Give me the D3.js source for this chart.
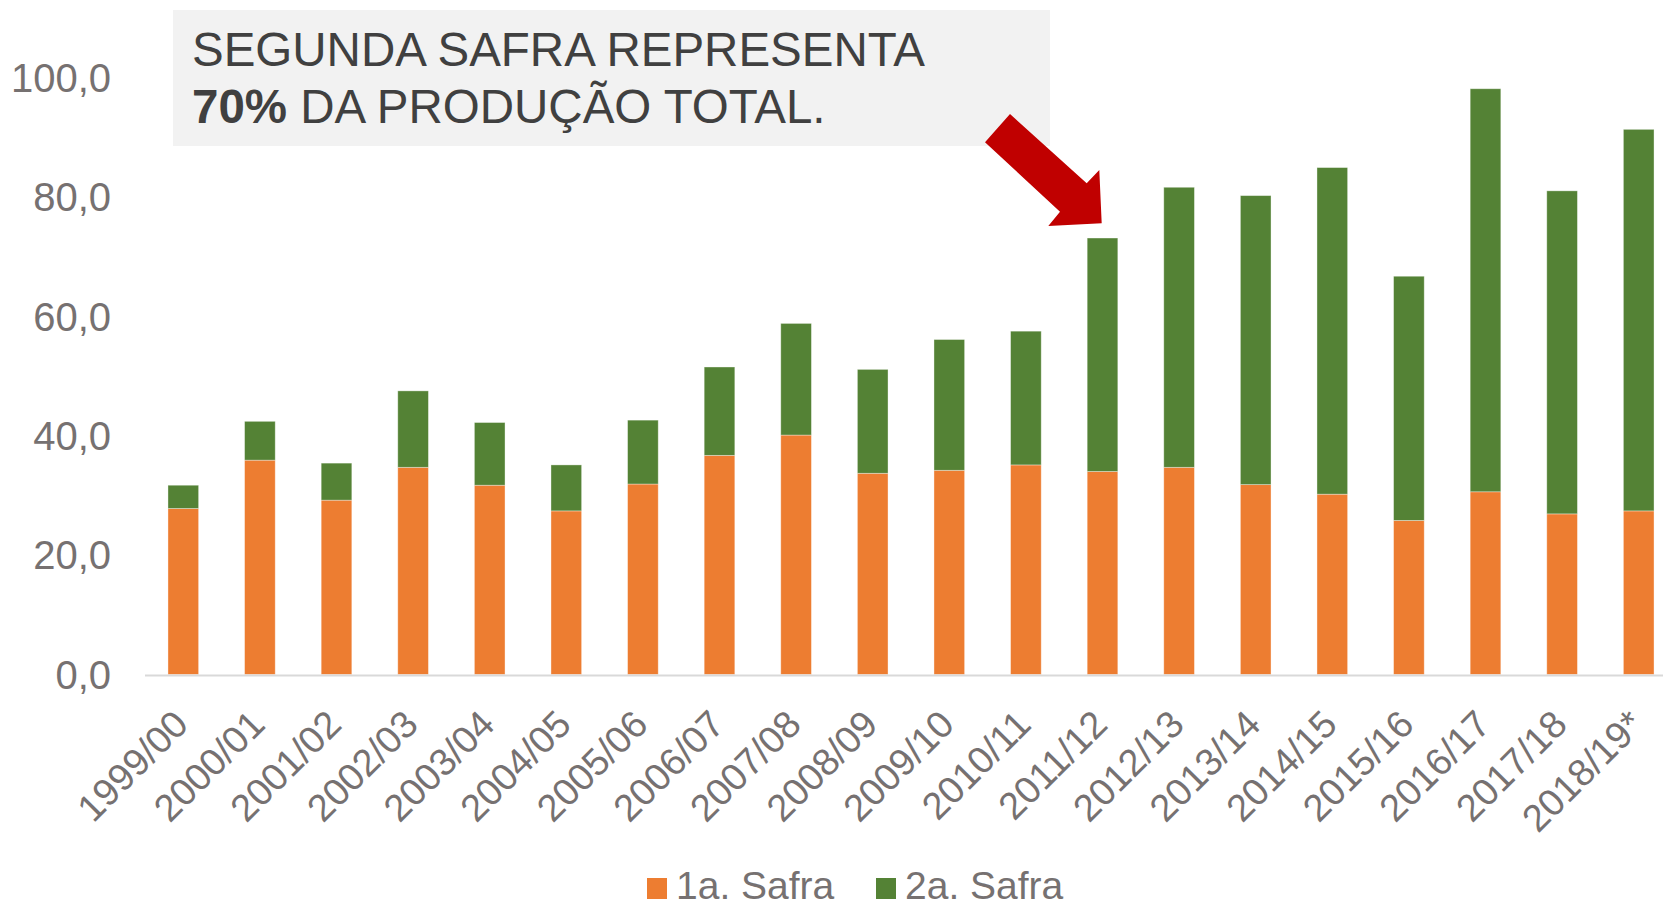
<!DOCTYPE html>
<html>
<head>
<meta charset="utf-8">
<script src="https://cdn.jsdelivr.net/npm/d3@7"></script>
<style>
  html, body { margin: 0; padding: 0; background: #fff; }
  svg { display: block; font-family: "Liberation Sans", Arial, sans-serif; }
</style>
</head>
<body>
<svg id="chart" width="1663" height="907"></svg>
<script>
const categories = ["1999/00","2000/01","2001/02","2002/03","2003/04","2004/05","2005/06","2006/07","2007/08","2008/09","2009/10","2010/11","2011/12","2012/13","2013/14","2014/15","2015/16","2016/17","2017/18","2018/19*"];
const primeiraSafra = [27.8, 35.9, 29.2, 34.7, 31.7, 27.4, 31.9, 36.7, 40.1, 33.7, 34.2, 35.1, 34.0, 34.7, 31.8, 30.2, 25.8, 30.6, 26.9, 27.4];
const segundaSafra  = [3.9, 6.5, 6.2, 12.8, 10.5, 7.7, 10.7, 14.8, 18.7, 17.4, 21.9, 22.4, 39.1, 46.9, 48.4, 54.7, 40.9, 67.5, 54.1, 63.9];
const yTicks = [0, 20, 40, 60, 80, 100];
const seriesNames = ["1a. Safra", "2a. Safra"];
const colors = ["#ED7D31", "#548235"];

const svg = d3.select("#chart");
const W = 1663, H = 907;
const x0 = 145, x1 = 1677;       // band range (chart slightly cropped on the right)
const yBase = 674.5, yTop = 77.4;

const x = d3.scaleBand().domain(categories).range([x0, x1]).paddingInner(0.6).paddingOuter(0.3);
const y = d3.scaleLinear().domain([0, 100]).range([yBase, yTop]);

const rows = categories.map((c, i) => ({ cat: c, s1: primeiraSafra[i], s2: segundaSafra[i] }));
const stack = d3.stack().keys(["s1", "s2"])(rows);

// bars
svg.append("g").selectAll("g").data(stack).join("g")
  .attr("fill", (d, i) => colors[i])
  .selectAll("rect").data(d => d).join("rect")
  .attr("x", d => x(d.data.cat))
  .attr("width", x.bandwidth())
  .attr("y", d => y(d[1]))
  .attr("height", d => y(d[0]) - y(d[1]))
  .attr("stroke", "#ffffff")
  .attr("stroke-opacity", 0.45)
  .attr("stroke-width", 0.8);

// x axis line
svg.append("line")
  .attr("x1", x0).attr("x2", W)
  .attr("y1", yBase + 1).attr("y2", yBase + 1)
  .attr("stroke", "#D9D9D9").attr("stroke-width", 2.2);

// y tick labels
const fmt = v => d3.format(".1f")(v).replace(".", ",");
svg.append("g").selectAll("text").data(yTicks).join("text")
  .attr("x", 111)
  .attr("y", d => y(d))
  .attr("dy", "0.36em")
  .attr("text-anchor", "end")
  .attr("font-size", 40)
  .attr("fill", "#767171")
  .text(fmt);

// x tick labels rotated
svg.append("g").selectAll("text").data(categories).join("text")
  .attr("transform", d => `translate(${x(d) + x.bandwidth() / 2 + 7},${yBase + 52}) rotate(-45)`)
  .attr("text-anchor", "end")
  .attr("font-size", 38)
  .attr("fill", "#767171")
  .text(d => d);

// legend
const legend = svg.append("g");
const legendItems = [{ name: seriesNames[0], color: colors[0], x: 647 }, { name: seriesNames[1], color: colors[1], x: 876 }];
legendItems.forEach(it => {
  legend.append("rect").attr("x", it.x).attr("y", 878).attr("width", 20).attr("height", 21).attr("fill", it.color);
  legend.append("text").attr("x", it.x + 29).attr("y", 899)
    .attr("font-size", 39).attr("fill", "#767171").text(it.name);
});

// annotation box
svg.append("rect").attr("x", 173).attr("y", 10).attr("width", 877).attr("height", 136).attr("fill", "#F2F2F2");
svg.append("text").attr("x", 192).attr("y", 66).attr("font-size", 47.5).attr("fill", "#404040")
  .text("SEGUNDA SAFRA REPRESENTA");
const t2 = svg.append("text").attr("x", 192).attr("y", 123).attr("font-size", 47.5).attr("fill", "#404040");
t2.append("tspan").attr("font-weight", "bold").text("70%");
t2.append("tspan").text(" DA PRODUÇÃO TOTAL.");

// arrow shape
const arrowPts = [[1010, 114], [1086.7, 183.3], [1099.3, 170], [1101.7, 223.3], [1048.3, 226], [1060, 211.7], [985, 142.3]];
svg.append("polygon").attr("points", arrowPts.map(p => p.join(",")).join(" ")).attr("fill", "#C00000");
</script>
</body>
</html>
